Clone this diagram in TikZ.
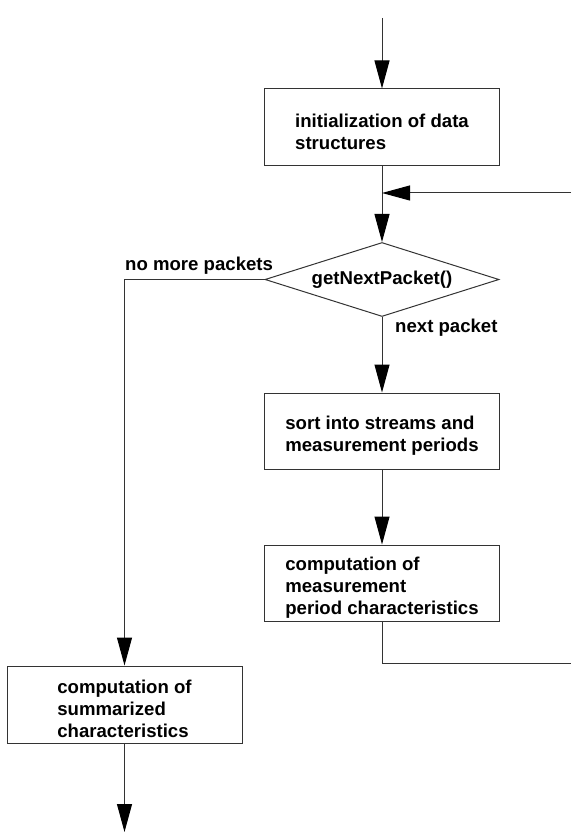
\documentclass[tikz,border=0pt]{standalone}
\usepackage{fontspec}
\setmainfont{Liberation Sans}
\usetikzlibrary{arrows.meta,shapes.geometric}
\newcommand\toppad{\rule{0pt}{22.5pt}}
\begin{document}
\begin{tikzpicture}[x=1pt,y=-1pt,
  every node/.style={font=\bfseries\fontsize{18.6pt}{22pt}\selectfont},
  line/.style={line width=1pt, draw=black!80},
  arr/.style={line, -{Triangle[length=28pt,width=15pt,color=black]}},
  box/.style={draw=black!80, line width=1pt, rectangle, minimum width=235pt, minimum height=77pt, align=left, inner sep=0pt},
  dec/.style={draw=black!80, line width=1pt, diamond, aspect=3.16, minimum width=234pt, minimum height=74pt, inner sep=0pt},
  lbl/.style={inner sep=0pt, anchor=base west}]
\useasboundingbox (0,0) rectangle (571,834);
\coordinate (start) at (382,18);
\node[box] (b1) at (382,127.5) {\toppad initialization of data\\structures};
\node[dec] (d) at (382,279.5) {getNextPacket()};
\node[box, minimum height=76pt] (b2) at (382,431) {\toppad sort into streams and\\measurement periods};
\node[box, minimum height=76pt] (b3) at (382,583) {\toppad computation of\\measurement\\period characteristics};
\node[box] (b4) at (124.5,704.5) {\toppad computation of\\summarized\\characteristics};
\coordinate (fbin) at (571,193);
\coordinate (join) at (382,193);
\coordinate (fbout) at (571,663);
\coordinate (end) at (124.5,832);
\draw[arr] (start) -- (b1.north);
\draw[arr] (b1.south) -- (d.north);
\draw[arr] (fbin) -- (join);
\draw[arr] (d.south) -- (b2.north);
\draw[arr] (b2.south) -- (b3.north);
\draw[line] (b3.south) |- (fbout);
\draw[arr] (d.west) -| (b4.north);
\draw[arr] (b4.south) -- (end);
\node[lbl] (lno) at (125,270) {no more packets};
\node[lbl] (lnext) at (395,332) {next packet};
\end{tikzpicture}
\end{document}
